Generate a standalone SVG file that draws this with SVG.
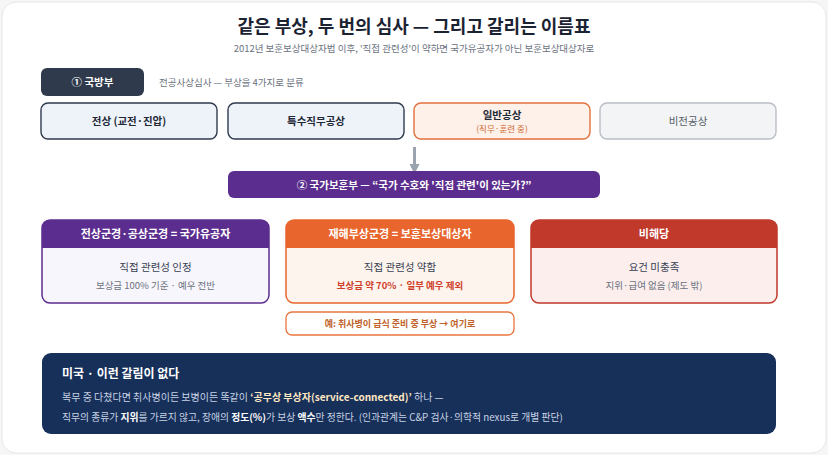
<svg xmlns="http://www.w3.org/2000/svg" width="828" height="455" viewBox="0 0 828 455">
<defs>
<style>
text{font-family:"Noto Sans CJK KR","Noto Sans",sans-serif}
.t{font-size:18px;font-weight:700;fill:#1b2333}
.sub{font-size:9.5px;fill:#6b7280}
.c{text-anchor:middle}
.b{font-weight:700}
.cat{font-size:10.5px;font-weight:700;fill:#1f2937}
.hd{font-size:11px;font-weight:700;fill:#fff}
.m1{font-size:10.5px;fill:#374151}
.m2{font-size:9.5px;fill:#6b7280}
.us{font-size:10px;fill:#c9d3e4}
.hl{fill:#ffe8c2;font-weight:700}
.wb{fill:#fff;font-weight:700}
</style>
<marker id="ah" markerWidth="10" markerHeight="10" refX="5" refY="5" orient="auto" markerUnits="userSpaceOnUse" viewBox="0 0 10 10"><path d="M0,0 L10,5 L0,10 z" fill="#9aa3ae"/></marker>
</defs>
<rect width="828" height="455" fill="#f6f6f7"/>
<rect x="2" y="2" width="824" height="451" rx="14" fill="#fff" stroke="#e6e7ea"/>
<text class="t c" x="414" y="33">같은 부상, 두 번의 심사 — 그리고 갈리는 이름표</text>
<text class="sub c" x="414" y="52">2012년 보훈보상대상자법 이후, '직접 관련성'이 약하면 국가유공자가 아닌 보훈보상대상자로</text>

<g id="mnd">
<rect x="41" y="68" width="103" height="28" rx="6" fill="#2f3a4d"/>
<text class="hd c" x="92.5" y="86" style="font-size:10.5px">① 국방부</text>
<text x="159" y="86" style="font-size:9.5px;fill:#6b7280">전공사상심사 — 부상을 4가지로 분류</text>
</g>

<g id="cat1"><rect x="41" y="103" width="176" height="36" rx="7" fill="#eef3fa" stroke="#2f3a4d" stroke-width="1.4"/><text class="cat c" x="129" y="125">전상 (교전·진압)</text></g>
<g id="cat2"><rect x="228" y="103" width="176" height="36" rx="7" fill="#eef3fa" stroke="#2f3a4d" stroke-width="1.4"/><text class="cat c" x="316" y="125">특수직무공상</text></g>
<g id="cat3"><rect x="414" y="103" width="176" height="36" rx="7" fill="#fdf1e9" stroke="#e2703b" stroke-width="1.4"/><text class="cat c" x="502" y="119">일반공상</text><text class="c" x="502" y="132" style="font-size:8.5px;fill:#d0672f">(직무·훈련 중)</text></g>
<g id="cat4"><rect x="600" y="103" width="176" height="36" rx="7" fill="#f3f4f6" stroke="#b9bec6" stroke-width="1.4"/><text class="c" x="688" y="125" style="font-size:10.5px;fill:#555d69">비전공상</text></g>

<g id="connectors">
<line x1="414.5" y1="147" x2="414.5" y2="169" stroke="#9aa3ae" stroke-width="3" marker-end="url(#ah)"/>
</g>

<g id="mpva">
<rect x="228" y="171" width="372" height="27" rx="6" fill="#5b2d8e"/>
<text class="hd c" x="414" y="189" style="font-size:10.5px">② 국가보훈부 — “국가 수호와 '직접 관련'이 있는가?”</text>
</g>

<g id="res1">
<rect x="42" y="220" width="227" height="83" rx="8" fill="#f8f6fd" stroke="#5b2d8e" stroke-width="1.5"/>
<path d="M50,220 H261 A8,8 0 0 1 269,228 V248 H42 V228 A8,8 0 0 1 50,220 Z" fill="#5b2d8e"/>
<text class="hd c" x="155.5" y="238">전상군경·공상군경 = 국가유공자</text>
<text class="m1 c" x="155.5" y="271">직접 관련성 인정</text>
<text class="m2 c" x="155.5" y="289">보상금 100% 기준 · 예우 전반</text>
</g>

<g id="res2">
<rect x="286" y="220" width="228" height="83" rx="8" fill="#fdf4ee" stroke="#e8652d" stroke-width="1.5"/>
<path d="M294,220 H506 A8,8 0 0 1 514,228 V248 H286 V228 A8,8 0 0 1 294,220 Z" fill="#e8652d"/>
<text class="hd c" x="400" y="238">재해부상군경 = 보훈보상대상자</text>
<text class="m1 c" x="400" y="271">직접 관련성 약함</text>
<text class="c b" x="400" y="289" style="font-size:9.5px;fill:#cf3f2a">보상금 약 70% · 일부 예우 제외</text>
</g>

<g id="res3">
<rect x="531" y="220" width="246" height="83" rx="8" fill="#fbeeed" stroke="#c0392b" stroke-width="1.5"/>
<path d="M539,220 H769 A8,8 0 0 1 777,228 V248 H531 V228 A8,8 0 0 1 539,220 Z" fill="#c0392b"/>
<text class="hd c" x="654" y="238">비해당</text>
<text class="m1 c" x="654" y="271">요건 미충족</text>
<text class="m2 c" x="654" y="289">지위·급여 없음 (제도 밖)</text>
</g>

<g id="note">
<rect x="286" y="312" width="228" height="23" rx="6" fill="#fff" stroke="#e8763e" stroke-width="1.3"/>
<text class="c b" x="400" y="327" style="font-size:9px;fill:#c0622a">예: 취사병이 급식 준비 중 부상 → 여기로</text>
</g>

<g id="us">
<rect x="42" y="353" width="734" height="81" rx="9" fill="#17305a"/>
<text x="62" y="378" style="font-size:12px;font-weight:700;fill:#fff">미국 · 이런 갈림이 없다</text>
<text class="us" x="62" y="401">복무 중 다쳤다면 취사병이든 보병이든 똑같이 <tspan class="hl">‘공무상 부상자(service-connected)’</tspan> 하나 —</text>
<text class="us" x="62" y="421" style="font-size:9.8px">직무의 종류가 <tspan class="wb">지위</tspan>를 가르지 않고, 장애의 <tspan class="wb">정도(%)</tspan>가 보상 <tspan class="wb">액수</tspan>만 정한다. (인과관계는 C&amp;P 검사·의학적 nexus로 개별 판단)</text>
</g>
</svg>
